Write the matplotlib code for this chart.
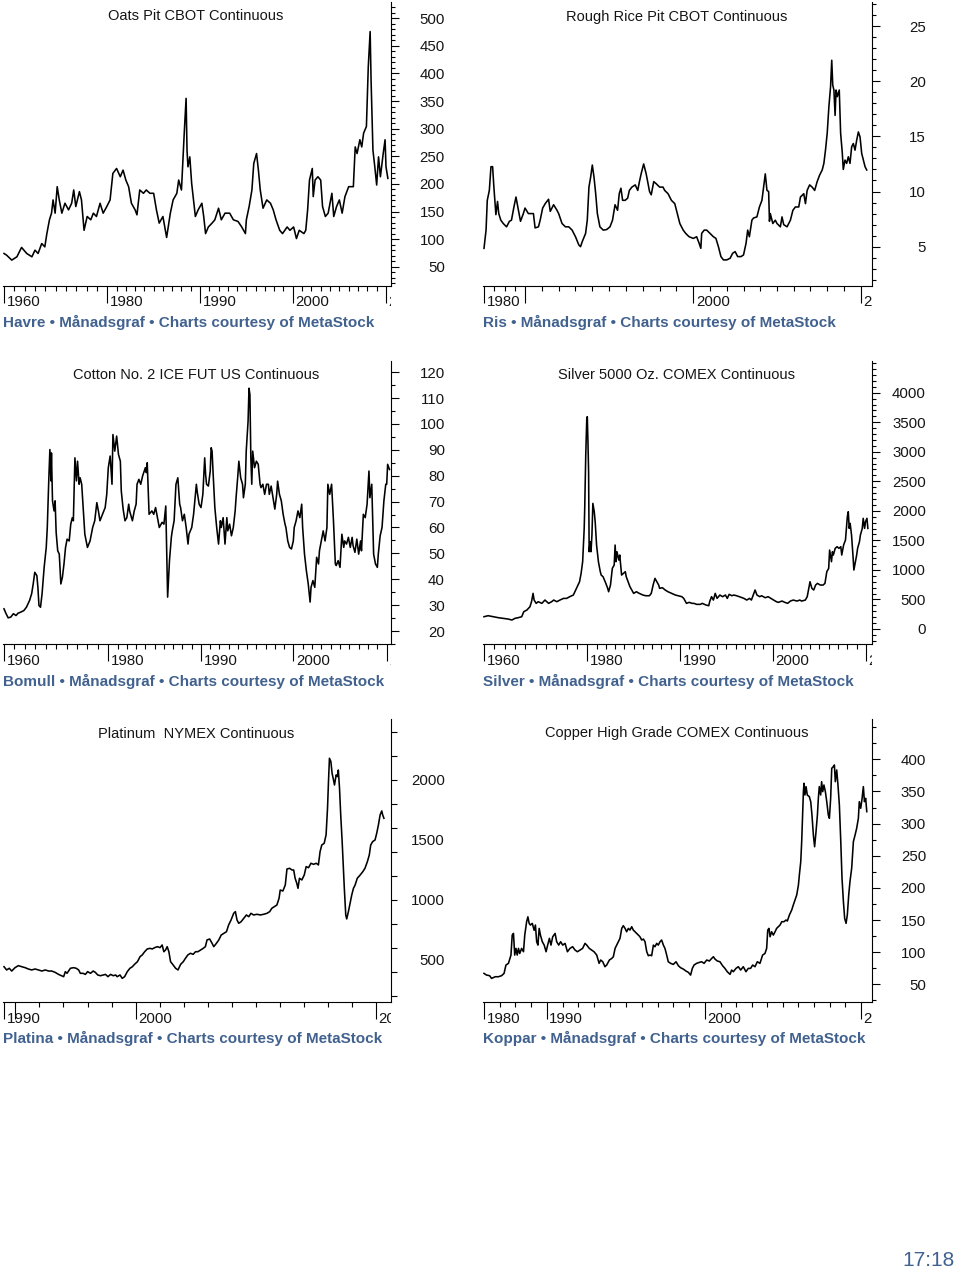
import numpy as np
import matplotlib.pyplot as plt
from matplotlib.transforms import blended_transform_factory, offset_copy, Bbox, TransformedBbox

plt.rcParams['font.family'] = ['Liberation Sans', 'DejaVu Sans']

W, H = 960, 1274
PT = 72 / 100  # punkter per pixel vid dpi 100

# ---------------- data ----------------
oats_year = [1960.0, 1960.5, 1961.5, 1962.5, 1963.4, 1964.4, 1965.4, 1966.0, 1966.6, 1967.3,
             1967.9, 1968.3, 1968.8, 1969.2, 1969.5, 1969.9, 1970.3, 1970.7, 1971.2, 1971.8,
             1972.5, 1973.1, 1973.5, 1973.9, 1974.6, 1975.0, 1975.5, 1976.1, 1976.8, 1977.3,
             1977.9, 1978.6, 1979.2, 1979.9, 1980.3, 1980.6, 1981.0, 1981.4, 1981.7, 1982.0,
             1982.3, 1982.6, 1983.0, 1983.2, 1983.5, 1983.9, 1984.2, 1984.6, 1985.0, 1985.3,
             1985.6, 1986.0, 1986.4, 1986.8, 1987.1, 1987.5, 1987.7, 1988.0, 1988.3, 1988.5,
             1988.6, 1988.7, 1988.9, 1989.1, 1989.5, 1989.8, 1990.2, 1990.4, 1990.6, 1990.9,
             1991.3, 1991.6, 1992.0, 1992.3, 1992.7, 1993.2, 1993.6, 1994.1, 1994.5, 1994.9,
             1995.0, 1995.3, 1995.6, 1995.8, 1996.1, 1996.3, 1996.5, 1996.8, 1997.2, 1997.6,
             1997.9, 1998.2, 1998.6, 1998.9, 1999.4, 1999.7, 2000.1, 2000.4, 2000.7, 2001.2,
             2001.4, 2001.6, 2001.8, 2002.1, 2002.2, 2002.4, 2002.7, 2003.0, 2003.2, 2003.5,
             2003.8, 2004.0, 2004.2, 2004.4, 2004.7, 2005.0, 2005.3, 2005.6, 2006.0, 2006.5,
             2006.7, 2006.9, 2007.2, 2007.4, 2007.6, 2007.9, 2008.0, 2008.1, 2008.2, 2008.3,
             2008.4, 2008.5, 2008.6, 2008.8, 2009.0, 2009.2, 2009.4, 2009.7, 2009.9, 2010.0,
             2010.2]
oats_price = [74, 71, 62, 68, 85, 74, 68, 80, 74, 92,
              86, 110, 135, 147, 171, 147, 195, 171, 147, 165,
              153, 165, 189, 159, 186, 171, 116, 141, 135, 147,
              141, 165, 147, 159, 171, 219, 228, 213, 225, 207,
              195, 165, 153, 144, 189, 183, 189, 183, 183, 153,
              129, 141, 103, 147, 171, 183, 207, 189, 292, 355,
              261, 231, 249, 201, 141, 153, 165, 141, 110, 122,
              129, 135, 156, 135, 147, 147, 135, 132, 122, 110,
              135, 159, 189, 237, 255, 225, 189, 156, 171, 165,
              153, 135, 116, 110, 122, 116, 122, 101, 116, 110,
              116, 153, 207, 228, 177, 207, 213, 207, 159, 141,
              147, 165, 183, 141, 159, 171, 147, 177, 195, 195,
              267, 255, 280, 267, 292, 304, 358, 412, 443, 476,
              388, 328, 261, 231, 198, 249, 213, 255, 280, 231,
              210]

rice_year = [1980.0, 1980.5, 1980.8, 1981.3, 1981.7, 1982.1, 1982.4, 1982.9, 1983.3, 1983.6,
             1984.1, 1984.7, 1985.5, 1986.2, 1986.7, 1987.3, 1987.8, 1988.4, 1988.9, 1989.6,
             1990.0, 1990.2, 1990.4, 1990.5, 1990.6, 1990.8, 1990.9, 1991.05, 1991.2, 1991.4,
             1991.5, 1991.7, 1991.9, 1992.0, 1992.2, 1992.4, 1992.6, 1992.8, 1993.0, 1993.2,
             1993.3, 1993.4, 1993.6, 1993.7, 1993.8, 1993.9, 1994.0, 1994.1, 1994.2, 1994.3,
             1994.45, 1994.65, 1994.85, 1995.05, 1995.2, 1995.35, 1995.5, 1995.6, 1995.7, 1995.8,
             1995.95, 1996.1, 1996.2, 1996.35, 1996.55, 1996.7, 1996.8, 1996.9, 1997.05, 1997.2,
             1997.4, 1997.5, 1997.65, 1997.8, 1998.0, 1998.2, 1998.3, 1998.5, 1998.7, 1998.9,
             1999.05, 1999.2, 1999.4, 1999.55, 1999.75, 2000.0, 2000.2, 2000.35, 2000.45, 2000.5,
             2000.65, 2000.8, 2001.0, 2001.2, 2001.35, 2001.5, 2001.65, 2001.8, 2002.0, 2002.2,
             2002.35, 2002.5, 2002.65, 2002.85, 2003.0, 2003.15, 2003.25, 2003.35, 2003.5, 2003.6,
             2003.8, 2003.95, 2004.1, 2004.2, 2004.3, 2004.4, 2004.5, 2004.55, 2004.6, 2004.75,
             2004.9, 2005.0, 2005.2, 2005.3, 2005.4, 2005.6, 2005.8, 2005.95, 2006.1, 2006.3,
             2006.4, 2006.6, 2006.7, 2006.8, 2006.95, 2007.1, 2007.25, 2007.4, 2007.55, 2007.7,
             2007.8, 2007.9, 2008.0, 2008.1, 2008.2, 2008.27, 2008.33, 2008.4, 2008.47, 2008.53,
             2008.6, 2008.72, 2008.8, 2008.9, 2008.96, 2009.06, 2009.16, 2009.26, 2009.36, 2009.46,
             2009.56, 2009.66, 2009.76, 2009.86, 2009.96, 2010.06, 2010.16, 2010.26, 2010.36]
rice_price = [4.85, 6.5, 9.2, 10.1, 12.25, 12.25, 10.45, 7.9, 9.1, 8.0,
              7.4, 7.1, 6.8, 7.3, 7.4, 8.6, 9.5, 8.3, 7.3, 8.0,
              8.5, 8.0, 8.0, 8.0, 6.7, 6.8, 7.4, 8.5, 8.9, 9.3,
              8.2, 8.8, 8.3, 8.0, 7.1, 6.8, 6.8, 6.5, 5.9, 5.15,
              5.0, 5.45, 6.2, 7.4, 10.4, 11.3, 12.4, 11.3, 9.8, 8.0,
              6.8, 6.5, 6.55, 6.8, 7.4, 8.8, 8.3, 9.8, 10.3, 9.2,
              9.2, 9.4, 10.1, 10.4, 10.6, 10.1, 10.9, 11.6, 12.5, 11.6,
              10.0, 9.7, 10.9, 10.7, 10.4, 10.4, 10.1, 9.8, 9.2, 8.9,
              8.0, 7.1, 6.5, 6.2, 5.9, 5.75, 5.9, 5.3, 4.85, 6.2,
              6.5, 6.5, 6.2, 5.9, 5.75, 5.0, 4.1, 3.8, 3.8, 3.95,
              4.4, 4.55, 4.1, 4.1, 4.25, 5.3, 6.5, 5.9, 7.4, 7.6,
              7.7, 8.6, 9.2, 10.4, 11.6, 10.1, 10.0, 7.3, 8.0, 7.1,
              7.4, 7.1, 6.8, 7.7, 7.0, 6.8, 7.4, 8.3, 8.6, 8.6,
              9.5, 9.8, 8.9, 10.1, 10.6, 10.4, 10.1, 10.9, 11.5, 11.95,
              12.55, 13.8, 15.3, 17.7, 19.5, 21.9, 19.65, 19.2, 16.9, 19.2,
              18.6, 19.2, 15.3, 13.5, 12.0, 12.85, 12.55, 13.15, 12.55, 14.05,
              14.35, 13.75, 14.65, 15.4, 14.95, 13.45, 12.85, 12.25, 11.95]

cotton_year = [1960.0, 1960.4, 1960.8, 1961.3, 1961.8, 1962.3, 1962.7, 1963.2, 1963.8, 1964.3,
               1964.9, 1965.3, 1965.6, 1965.9, 1966.3, 1966.5, 1966.7, 1967.0, 1967.3, 1967.7,
               1968.1, 1968.3, 1968.6, 1968.8, 1969.0, 1969.1, 1969.3, 1969.6, 1969.8, 1970.0,
               1970.3, 1970.6, 1970.9, 1971.2, 1971.5, 1971.8, 1972.1, 1972.5, 1972.8, 1973.1,
               1973.3, 1973.6, 1973.9, 1974.1, 1974.4, 1974.6, 1974.9, 1975.2, 1975.5, 1976.0,
               1976.5, 1977.0, 1977.4, 1977.8, 1978.1, 1978.4, 1978.9, 1979.4, 1979.7, 1980.0,
               1980.2, 1980.4, 1980.5, 1980.7, 1980.9, 1981.1, 1981.3, 1981.4, 1981.6, 1981.8,
               1982.0, 1982.2, 1982.3, 1982.6, 1982.8, 1983.0, 1983.1, 1983.3, 1983.5, 1983.7,
               1984.0, 1984.1, 1984.2, 1984.4, 1984.7, 1984.9, 1985.1, 1985.3, 1985.5, 1985.8,
               1986.0, 1986.2, 1986.4, 1986.6, 1986.8, 1986.9, 1987.1, 1987.3, 1987.5, 1987.7,
               1987.8, 1988.0, 1988.2, 1988.4, 1988.6, 1988.7, 1989.0, 1989.2, 1989.5, 1989.6,
               1989.8, 1990.0, 1990.2, 1990.4, 1990.5, 1990.6, 1990.8, 1991.0, 1991.1, 1991.2,
               1991.3, 1991.5, 1991.7, 1991.9, 1992.1, 1992.2, 1992.4, 1992.6, 1992.8, 1992.9,
               1993.1, 1993.3, 1993.5, 1993.7, 1993.8, 1994.0, 1994.1, 1994.3, 1994.5, 1994.6,
               1994.8, 1994.9, 1995.1, 1995.2, 1995.3, 1995.4, 1995.5, 1995.6, 1995.8, 1996.0,
               1996.2, 1996.4, 1996.5, 1996.7, 1996.9, 1997.1, 1997.3, 1997.4, 1997.6, 1997.8,
               1998.0, 1998.2, 1998.3, 1998.5, 1998.7, 1998.9, 1999.1, 1999.2, 1999.4, 1999.6,
               1999.8, 2000.0, 2000.1, 2000.3, 2000.5, 2000.7, 2000.9, 2001.0, 2001.2, 2001.4,
               2001.6, 2001.8, 2001.9, 2002.1, 2002.3, 2002.5, 2002.7, 2002.8, 2003.0, 2003.2,
               2003.4, 2003.6, 2003.7, 2003.9, 2004.1, 2004.3, 2004.5, 2004.6, 2004.8, 2005.0,
               2005.2, 2005.4, 2005.5, 2005.7, 2005.9, 2006.1, 2006.3, 2006.4, 2006.6, 2006.8,
               2007.0, 2007.2, 2007.3, 2007.5, 2007.7, 2007.9, 2008.1, 2008.2, 2008.4, 2008.6,
               2008.8, 2009.0, 2009.1, 2009.3, 2009.5, 2009.7, 2009.9, 2010.0, 2010.1, 2010.3]
cotton_price = [28.6, 26.7, 25.1, 25.4, 26.7, 26.0, 26.9, 27.3, 27.9, 29.2,
                31.8, 34.4, 38.2, 42.7, 41.4, 36.9, 29.9, 29.2, 34.4, 44.6,
                52.3, 60.0, 79.2, 90.1, 78.0, 88.8, 70.3, 66.4, 70.3, 58.1,
                51.0, 49.7, 38.2, 40.8, 45.9, 52.3, 55.5, 54.8, 61.3, 63.8,
                62.6, 86.9, 78.0, 85.6, 76.7, 79.2, 76.7, 67.1, 57.4, 52.3,
                54.8, 60.0, 62.6, 69.6, 66.4, 62.6, 65.1, 67.7, 72.8, 83.1,
                87.6, 76.7, 95.9, 89.5, 95.3, 88.2, 85.6, 74.1, 67.1, 62.6,
                63.8, 69.0, 66.4, 62.6, 66.4, 69.0, 76.7, 78.6, 76.7, 79.9,
                83.1, 81.2, 85.0, 65.1, 66.4, 65.1, 67.7, 63.8, 60.0, 62.0,
                61.3, 68.3, 33.1, 47.2, 56.2, 58.7, 62.6, 76.7, 79.2, 69.0,
                67.7, 62.6, 65.1, 60.0, 53.6, 57.4, 60.0, 65.1, 76.7, 73.6,
                69.0, 67.7, 72.8, 86.9, 80.5, 76.7, 76.0, 81.8, 90.8, 89.5,
                81.8, 67.7, 60.0, 53.6, 62.6, 60.0, 63.8, 53.6, 63.8, 58.7,
                61.3, 56.8, 60.0, 66.4, 71.5, 80.5, 85.6, 79.2, 76.7, 71.5,
                76.7, 89.5, 101.0, 113.8, 111.3, 86.9, 76.7, 89.5, 83.1, 85.6,
                84.4, 76.7, 75.4, 76.7, 72.8, 76.7, 76.7, 72.8, 76.0, 71.5,
                67.1, 72.8, 77.9, 72.8, 70.3, 65.1, 61.3, 60.0, 54.8, 52.3,
                51.7, 54.8, 60.0, 62.6, 66.4, 63.8, 69.0, 60.0, 49.7, 43.3,
                38.2, 31.2, 36.9, 39.5, 36.9, 48.5, 45.9, 51.0, 54.8, 58.7,
                54.8, 60.0, 76.7, 72.8, 76.7, 62.6, 45.9, 45.3, 47.2, 44.6,
                57.4, 52.3, 54.8, 53.6, 56.2, 52.3, 56.2, 53.0, 50.4, 55.5,
                49.7, 54.8, 51.0, 65.1, 63.8, 69.0, 81.8, 71.5, 76.7, 49.7,
                45.9, 44.6, 49.7, 56.8, 60.0, 70.3, 76.7, 76.7, 84.4, 82.4]

silver_year = [1960.0, 1960.8, 1961.8, 1962.8, 1963.7, 1964.7, 1965.4, 1966.0, 1966.6, 1967.3,
               1967.7, 1968.3, 1968.9, 1969.2, 1969.5, 1969.7, 1970.1, 1970.5, 1971.2, 1971.8,
               1972.5, 1973.1, 1973.5, 1974.1, 1974.7, 1975.4, 1976.0, 1976.6, 1977.3, 1977.9,
               1978.5, 1978.8, 1979.1, 1979.4, 1979.5, 1979.7, 1979.9, 1980.0, 1980.07, 1980.14,
               1980.2, 1980.3, 1980.4, 1980.5, 1980.6, 1980.75, 1980.85, 1981.0, 1981.2, 1981.4,
               1981.5, 1981.7, 1982.0, 1982.2, 1982.3, 1982.5, 1982.7, 1982.9, 1983.0, 1983.1,
               1983.2, 1983.4, 1983.5, 1983.7, 1983.9, 1984.1, 1984.2, 1984.4, 1984.6, 1984.8,
               1985.0, 1985.3, 1985.6, 1986.0, 1986.3, 1986.7, 1986.9, 1987.1, 1987.3, 1987.5,
               1987.7, 1987.8, 1988.1, 1988.4, 1988.7, 1989.1, 1989.5, 1989.8, 1990.2, 1990.4,
               1990.7, 1991.0, 1991.3, 1991.5, 1991.8, 1992.2, 1992.4, 1992.8, 1993.1, 1993.2,
               1993.4, 1993.6, 1993.8, 1994.0, 1994.3, 1994.6, 1994.9, 1995.1, 1995.3, 1995.6,
               1995.8, 1996.1, 1996.4, 1996.7, 1996.9, 1997.2, 1997.5, 1997.7, 1997.9, 1998.1,
               1998.3, 1998.6, 1998.8, 1999.2, 1999.5, 1999.8, 2000.1, 2000.4, 2000.6, 2001.0,
               2001.3, 2001.6, 2001.9, 2002.2, 2002.6, 2002.9, 2003.1, 2003.5, 2003.7, 2003.8,
               2004.0, 2004.2, 2004.4, 2004.6, 2004.8, 2005.1, 2005.4, 2005.6, 2005.8, 2006.0,
               2006.1, 2006.3, 2006.4, 2006.5, 2006.7, 2006.9, 2007.1, 2007.3, 2007.4, 2007.6,
               2007.8, 2008.0, 2008.1, 2008.2, 2008.3, 2008.45, 2008.6, 2008.7, 2008.8, 2009.0,
               2009.1, 2009.3, 2009.4, 2009.6, 2009.7, 2009.85, 2009.95, 2010.1, 2010.2]
silver_price = [208, 225, 208, 191, 180, 168, 152, 180, 191, 208,
                293, 321, 377, 462, 603, 490, 434, 462, 434, 490,
                434, 462, 490, 462, 490, 518, 518, 547, 575, 688,
                800, 941, 1139, 1703, 2042, 2945, 3565, 3594, 3170, 2663,
                1308, 1478, 1308, 1590, 2126, 1985, 1816, 1421, 1139, 970,
                913, 885, 772, 688, 631, 744, 1026, 1083, 1421, 1139,
                1308, 1167, 1252, 913, 941, 970, 885, 800, 716, 660,
                603, 631, 603, 575, 563, 563, 603, 744, 857, 800,
                744, 688, 699, 660, 631, 603, 575, 563, 547, 518,
                434, 451, 434, 434, 417, 417, 434, 406, 394, 462,
                547, 490, 603, 518, 575, 547, 575, 518, 586, 563,
                575, 563, 547, 529, 518, 490, 518, 490, 575, 660,
                575, 547, 563, 529, 547, 518, 490, 462, 451, 473,
                451, 434, 473, 490, 473, 490, 473, 490, 547, 631,
                800, 688, 660, 744, 772, 744, 744, 772, 970, 1026,
                1336, 1139, 1308, 1252, 1365, 1393, 1365, 1393, 1252, 1421,
                1506, 1901, 1985, 1703, 1788, 1590, 1252, 998, 1083, 1252,
                1365, 1478, 1590, 1703, 1873, 1703, 1816, 1873, 1703]

platinum_year = [1990.0, 1991.2, 1992.4, 1993.5, 1995.0, 1995.14, 1995.28, 1995.42, 1995.55, 1995.69,
                 1995.83, 1995.97, 1996.11, 1996.25, 1996.39, 1996.52, 1996.66, 1996.8, 1996.94, 1997.01,
                 1997.08, 1997.15, 1997.29, 1997.42, 1997.53, 1997.63, 1997.7, 1997.81, 1997.91, 1998.0,
                 1998.12, 1998.23, 1998.32, 1998.42, 1998.53, 1998.64, 1998.74, 1998.84, 1998.95, 1999.06,
                 1999.16, 1999.22, 1999.34, 1999.43, 1999.53, 1999.64, 1999.75, 1999.85, 1999.94, 2000.06,
                 2000.17, 2000.26, 2000.36, 2000.47, 2000.58, 2000.68, 2000.78, 2000.89, 2001.0, 2001.09,
                 2001.16, 2001.23, 2001.3, 2001.37, 2001.44, 2001.55, 2001.65, 2001.75, 2001.86, 2001.97,
                 2002.06, 2002.16, 2002.27, 2002.38, 2002.48, 2002.58, 2002.69, 2002.8, 2002.89, 2002.96,
                 2003.07, 2003.17, 2003.24, 2003.35, 2003.45, 2003.55, 2003.66, 2003.77, 2003.86, 2003.96,
                 2004.07, 2004.14, 2004.21, 2004.28, 2004.38, 2004.49, 2004.6, 2004.7, 2004.79, 2004.9,
                 2005.04, 2005.18, 2005.32, 2005.46, 2005.57, 2005.66, 2005.76, 2005.87, 2005.96, 2006.01,
                 2006.12, 2006.22, 2006.29, 2006.4, 2006.5, 2006.57, 2006.63, 2006.7, 2006.75, 2006.81,
                 2006.91, 2007.01, 2007.09, 2007.19, 2007.29, 2007.4, 2007.51, 2007.6, 2007.67, 2007.74,
                 2007.84, 2007.92, 2007.98, 2008.02, 2008.06, 2008.12, 2008.17, 2008.23, 2008.27, 2008.34,
                 2008.39, 2008.43, 2008.48, 2008.53, 2008.59, 2008.64, 2008.68, 2008.74, 2008.78, 2008.85,
                 2008.92, 2008.99, 2009.06, 2009.13, 2009.22, 2009.34, 2009.45, 2009.54, 2009.64, 2009.72,
                 2009.78, 2009.86, 2009.96, 2010.03, 2010.1, 2010.17, 2010.24, 2010.28, 2010.33]
platinum_price = [444, 417, 431, 408, 436, 453, 444, 436, 425, 417,
                  425, 417, 408, 417, 408, 408, 397, 380, 367, 361,
                  403, 389, 431, 436, 431, 417, 389, 389, 380, 403,
                  389, 408, 397, 375, 369, 375, 380, 361, 380, 369,
                  375, 361, 375, 347, 361, 403, 431, 444, 464, 486,
                  528, 542, 569, 592, 597, 592, 603, 611, 603, 625,
                  569, 583, 611, 569, 486, 458, 431, 417, 464, 486,
                  514, 542, 556, 547, 569, 569, 583, 597, 611, 667,
                  675, 639, 611, 639, 667, 708, 722, 736, 792, 833,
                  889, 903, 833, 806, 819, 847, 875, 861, 889, 875,
                  881, 875, 881, 889, 903, 931, 944, 958, 1014, 1083,
                  1075, 1125, 1258, 1264, 1250, 1250, 1181, 1139, 1097, 1181,
                  1167, 1208, 1278, 1269, 1306, 1297, 1306, 1292, 1403, 1458,
                  1472, 1542, 1764, 1986, 2181, 2153, 2056, 2000, 1958, 2042,
                  2028, 2083, 1931, 1708, 1486, 1264, 1097, 875, 842, 903,
                  972, 1042, 1097, 1125, 1181, 1208, 1236, 1264, 1319, 1375,
                  1458, 1486, 1500, 1556, 1625, 1708, 1742, 1708, 1681]

copper_year = [1980.0, 1980.4, 1980.9, 1981.2, 1981.8, 1982.3, 1982.8, 1983.2, 1983.5, 1983.9,
               1984.3, 1984.5, 1984.7, 1984.9, 1985.1, 1985.3, 1985.5, 1985.7, 1986.0, 1986.3,
               1986.5, 1986.8, 1987.0, 1987.2, 1987.4, 1987.7, 1988.0, 1988.2, 1988.4, 1988.6,
               1988.8, 1989.0, 1989.3, 1989.6, 1989.9, 1990.06, 1990.17, 1990.27, 1990.38, 1990.53,
               1990.63, 1990.76, 1990.88, 1991.01, 1991.16, 1991.31, 1991.47, 1991.64, 1991.79, 1991.94,
               1992.11, 1992.27, 1992.42, 1992.53, 1992.69, 1992.84, 1992.99, 1993.16, 1993.31, 1993.41,
               1993.54, 1993.68, 1993.79, 1993.96, 1994.11, 1994.21, 1994.32, 1994.42, 1994.53, 1994.63,
               1994.74, 1994.84, 1994.95, 1995.05, 1995.16, 1995.26, 1995.37, 1995.47, 1995.58, 1995.68,
               1995.79, 1995.89, 1996.0, 1996.11, 1996.21, 1996.32, 1996.42, 1996.53, 1996.63, 1996.74,
               1996.84, 1996.95, 1997.05, 1997.16, 1997.26, 1997.37, 1997.47, 1997.58, 1997.68, 1997.83,
               1998.0, 1998.17, 1998.32, 1998.46, 1998.63, 1998.8, 1998.95, 1999.09, 1999.2, 1999.31,
               1999.47, 1999.64, 1999.79, 1999.94, 2000.11, 2000.28, 2000.43, 2000.54, 2000.64, 2000.79,
               2000.96, 2001.13, 2001.28, 2001.43, 2001.61, 2001.71, 2001.82, 2001.99, 2002.14, 2002.29,
               2002.46, 2002.63, 2002.78, 2002.93, 2003.06, 2003.21, 2003.36, 2003.53, 2003.7, 2003.85,
               2003.96, 2004.03, 2004.11, 2004.18, 2004.28, 2004.39, 2004.5, 2004.6, 2004.71, 2004.82,
               2004.93, 2005.07, 2005.2, 2005.29, 2005.42, 2005.57, 2005.67, 2005.78, 2005.89, 2006.0,
               2006.06, 2006.15, 2006.21, 2006.27, 2006.32, 2006.36, 2006.42, 2006.49, 2006.57, 2006.7,
               2006.79, 2006.87, 2006.96, 2007.04, 2007.13, 2007.22, 2007.28, 2007.34, 2007.43, 2007.49,
               2007.56, 2007.64, 2007.73, 2007.82, 2007.92, 2007.99, 2008.07, 2008.14, 2008.24, 2008.31,
               2008.37, 2008.46, 2008.54, 2008.63, 2008.72, 2008.8, 2008.89, 2008.97, 2009.06, 2009.14,
               2009.23, 2009.31, 2009.42, 2009.53, 2009.64, 2009.74, 2009.85, 2009.91, 2010.0, 2010.09,
               2010.17, 2010.24, 2010.32, 2010.39]
copper_price = [67, 64.4, 63.4, 59.2, 61.8, 61.8, 63.4, 67, 80, 82.6,
                95.5, 126.6, 129.2, 95.5, 105.9, 95.5, 105.9, 98, 105.9, 100.7,
                126.6, 147.4, 155, 144.8, 142.2, 144.8, 134, 142.2, 116.3, 111,
                137, 126.6, 116.3, 111, 100.7, 111, 121.5, 111, 124, 129.2,
                116.3, 111, 116.3, 111, 113.7, 100.7, 105.9, 108.5, 103.3, 100.7,
                103.3, 105.9, 113.7, 111, 105.9, 103.3, 100.7, 95.5, 82.6, 87.8,
                85.1, 77.4, 80, 87.8, 90.3, 92.9, 105.9, 111, 116.3, 121.5,
                137, 141.2, 137, 131.8, 137, 134.4, 139.6, 134.4, 131.8, 129.2,
                126.6, 124, 118.9, 120.4, 116.3, 100.7, 94.5, 95.5, 94.5, 111,
                108.5, 113.7, 111, 116.3, 118.9, 111, 105.9, 95.5, 85.1, 82.6,
                81, 85.1, 78.9, 75.8, 73.7, 70.6, 68.6, 64.4, 74.8, 80,
                82.6, 84.1, 85.1, 82.6, 87.8, 86.3, 90.3, 92.9, 89.3, 86.3,
                85.1, 78.9, 74.8, 69.6, 65.5, 72.2, 69.6, 74.8, 77.4, 72.2,
                77.4, 69.6, 74.8, 74.8, 80, 77.4, 85.1, 82.6, 95.5, 98,
                105.9, 134.4, 137, 124, 131.8, 126.6, 131.8, 137, 139.6, 142.2,
                147.4, 147.4, 150, 148.5, 157.8, 165.6, 173.3, 181.1, 188.9, 204.4,
                220, 240.8, 271.9, 313.4, 349.7, 362.7, 344.5, 357.5, 344.5, 341.9,
                334.1, 313.4, 282.3, 264, 287.5, 313.4, 339.3, 357.5, 344.5, 365.2,
                349.7, 360, 349.7, 334.1, 313.4, 308.2, 339.3, 386, 388.6, 391.2,
                365.2, 383.4, 360, 329, 272, 214.8, 178.5, 152.6, 144.8, 157.8,
                188.9, 209.6, 230.4, 272, 282.3, 292.6, 308.2, 334.1, 323.8, 339.3,
                357.5, 334.1, 339.3, 318.6]

# tidsaxelns brytpunkter (år -> pixel i bilden), MetaStock trycker ihop äldre år
long_breaks = [1960, 1980, 1990, 2000, 2010]
long_minor = [1962, 1964, 1966, 1968, 1970, 1972, 1974, 1976, 1978] + \
             [y for y in range(1981, 2010) if y % 10 != 0]
short_minor = [1982.5, 1985, 1987.5] + [y for y in range(1991, 2010) if y % 10 != 0]

# ---------------- layout ----------------
COLS = {0: (3, 390.5, 445), 1: (483, 872, 926)}
ROWS = {0: (2, 285.5), 1: (360.5, 644), 2: (719, 1002)}
CAPTION_COLOR = '#41618f'
TEXT_COLOR = '#151515'

fig = plt.figure(figsize=(W / 100, H / 100), dpi=100)


def piecewise(years, px):
    years = np.asarray(years, float)
    px = np.asarray(px, float)
    s0 = (px[1] - px[0]) / (years[1] - years[0])
    s1 = (px[-1] - px[-2]) / (years[-1] - years[-2])

    def fwd(x):
        x = np.asarray(x, float)
        out = np.interp(x, years, px)
        out = np.where(x < years[0], px[0] + (x - years[0]) * s0, out)
        out = np.where(x > years[-1], px[-1] + (x - years[-1]) * s1, out)
        return out

    def inv(p):
        p = np.asarray(p, float)
        out = np.interp(p, px, years)
        out = np.where(p < px[0], years[0] + (p - px[0]) / s0, out)
        out = np.where(p > px[-1], years[-1] + (p - px[-1]) / s1, out)
        return out
    return fwd, inv


def panel(col, row, title, caption, years, values, brk_years, brk_px,
          xlabels, xminor, ylim, ylab, yminor, ymaj_len=8, ymin_len=4):
    x0, x1, lab_right = COLS[col]
    top, bot = ROWS[row]
    ax = fig.add_axes([x0 / W, 1 - bot / H, (x1 - x0) / W, (bot - top) / H])
    fwd, inv = piecewise(brk_years, brk_px)
    ax.set_xscale('function', functions=(fwd, inv))
    ax.set_xlim(float(inv(x0)), float(inv(x1)))
    ax.set_ylim(*ylim)

    ax.plot(years, values, color='black', lw=1.15)

    for s in ['left', 'top']:
        ax.spines[s].set_visible(False)
    for s in ['right', 'bottom']:
        ax.spines[s].set_linewidth(0.8)

    # x-axel
    ax.set_xticks(brk_years)
    ax.set_xticks(xminor, minor=True)
    ax.set_xticklabels([])
    ax.tick_params(axis='x', which='major', length=17 * PT, width=0.8, direction='out')
    ax.tick_params(axis='x', which='minor', length=5 * PT, width=0.8, direction='out')
    clip = TransformedBbox(Bbox.from_extents(x0 / W, 0, x1 / W, 1), fig.transFigure)
    trans = offset_copy(blended_transform_factory(ax.transData, fig.transFigure),
                        fig=fig, x=2.5, y=0, units='dots')
    for yr, lab in zip(brk_years, xlabels):
        if lab:
            t = ax.text(yr, 1 - (bot + 21) / H, lab, transform=trans, ha='left',
                        va='baseline', fontsize=10.8, color=TEXT_COLOR, clip_on=True)
            t.set_clip_box(clip)

    # y-axel till höger
    ax.yaxis.tick_right()
    ax.set_yticks(ylab if ymaj_len else [])
    ax.set_yticks(yminor, minor=True)
    ax.set_yticklabels([])
    ax.tick_params(axis='y', which='major', length=ymaj_len * PT, width=0.8, direction='out')
    ax.tick_params(axis='y', which='minor', length=ymin_len * PT, width=0.8, direction='out')
    ytrans = blended_transform_factory(fig.transFigure, ax.transData)
    for v in ylab:
        ax.text(lab_right / W, v, str(v), transform=ytrans, ha='right',
                va='center_baseline', fontsize=10.8, color=TEXT_COLOR)

    # titel och bildtext
    fig.text(((x0 + x1) / 2 - 1) / W, 1 - (top + 13) / H, title, ha='center',
             va='center_baseline', fontsize=10.5, color=TEXT_COLOR)
    fig.text(x0 / W, 1 - (bot + 41.5) / H, caption, ha='left', va='baseline',
             fontsize=11, fontweight='bold', color=CAPTION_COLOR)
    return ax


panel(0, 0, 'Oats Pit CBOT Continuous',
      'Havre • Månadsgraf • Charts courtesy of MetaStock',
      oats_year, oats_price, long_breaks, [4, 107.3, 200, 292.7, 386],
      ['1960', '1980', '1990', '2000', '2010'], long_minor,
      (16, 529.5), list(range(50, 501, 50)), list(range(20, 530, 10)))

panel(1, 0, 'Rough Rice Pit CBOT Continuous',
      'Ris • Månadsgraf • Charts courtesy of MetaStock',
      rice_year, rice_price, [1980, 1990, 2000, 2010], [484, 525, 693.3, 860.7],
      ['1980', '', '2000', '2010'], short_minor,
      (1.48, 27.18), [5, 10, 15, 20, 25], list(range(2, 28)))

panel(0, 1, 'Cotton No. 2 ICE FUT US Continuous',
      'Bomull • Månadsgraf • Charts courtesy of MetaStock',
      cotton_year, cotton_price, long_breaks, [4, 108.3, 201, 293.3, 386.7],
      ['1960', '1980', '1990', '2000', '2010'], long_minor,
      (15.5, 124.5), list(range(20, 121, 10)), list(range(15, 125, 5)))

panel(1, 1, 'Silver 5000 Oz. COMEX Continuous',
      'Silver • Månadsgraf • Charts courtesy of MetaStock',
      silver_year, silver_price, long_breaks, [484, 587.3, 680, 772.7, 866],
      ['1960', '1980', '1990', '2000', '2010'], long_minor,
      (-254, 4545), list(range(0, 4001, 500)), list(range(-200, 4501, 100)))

panel(0, 2, 'Platinum  NYMEX Continuous',
      'Platina • Månadsgraf • Charts courtesy of MetaStock',
      platinum_year, platinum_price, [1990, 1995, 2000, 2010], [4, 15, 136, 376],
      ['1990', '', '2000', '2010'],
      [1996, 1997, 1998, 1999] + [y for y in range(2001, 2010)],
      (150, 2508), [500, 1000, 1500, 2000], list(range(200, 2501, 200)),
      ymaj_len=0, ymin_len=6)

panel(1, 2, 'Copper High Grade COMEX Continuous',
      'Koppar • Månadsgraf • Charts courtesy of MetaStock',
      copper_year, copper_price, [1980, 1990, 2000, 2010], [484, 546.7, 705, 860.7],
      ['1980', '1990', '2000', '2010'], short_minor,
      (22.5, 462.7), list(range(50, 401, 50)), list(range(25, 451, 25)))

fig.text(955 / W, 1 - 1266.5 / H, '17:18', ha='right', va='baseline',
         fontsize=15, color=CAPTION_COLOR)

fig.savefig('out.png', dpi=100)
